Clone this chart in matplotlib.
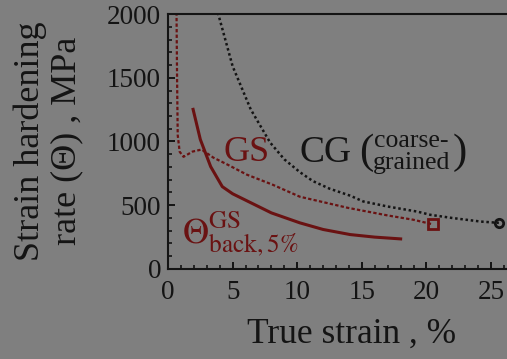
import matplotlib
matplotlib.use('Agg')
import matplotlib.pyplot as plt
from matplotlib.ticker import MultipleLocator

plt.rcParams['font.family'] = ['Liberation Serif', 'DejaVu Serif']
plt.rcParams['mathtext.fontset'] = 'stix'

# coarse-grained (black dotted)
cg_x = [3.75, 5.0, 6.4, 7.9, 9.0, 10.2, 11.2, 12.5, 14.1, 15.1, 17.0, 19.3, 20.3, 22.0, 24.2, 25.6]
cg_y = [2050, 1590, 1252, 992, 860, 760, 690, 630, 575, 530, 490, 450, 425, 400, 372, 362]

# GS (red dotted)
gs_x = [0.65, 0.7, 0.75, 0.9, 1.2, 1.9, 2.6, 3.5, 4.6, 6.1, 8.1, 10.2, 13.9, 17.0, 19.0, 20.5]
gs_y = [2100, 1500, 1050, 920, 880, 921, 937, 874, 819, 740, 661, 567, 480, 420, 386, 350]

# GS back stress 5% (red solid)
back_x = [1.94, 2.5, 3.3, 4.2, 5.0, 6.4, 8.0, 10.2, 12.0, 14.1, 16.0, 18.0]
back_y = [1252, 1016, 803, 646, 590, 520, 440, 362, 310, 270, 250, 236]

xticks = [0, 5, 10, 15, 20, 25]
yticks = [0, 500, 1000, 1500, 2000]

bg = '#7f7f7f'
red = '#6a1212'
dark = '#141414'

fig = plt.figure(figsize=(5.07, 3.59), dpi=100, facecolor=bg)
ax = fig.add_axes([0.3314, 0.2507, 0.7239, 0.7103], facecolor=bg)

ax.plot(cg_x, cg_y, color=dark, lw=1.8, ls=(0, (1, 1.1)))
ax.plot(cg_x[-1], cg_y[-1], 'o', mfc='none', mec=dark, ms=6, mew=2)
ax.plot(gs_x, gs_y, color=red, lw=1.6, ls=(0, (1.5, 1)))
ax.plot(gs_x[-1], gs_y[-1], 's', mfc='none', mec=red, ms=6.5, mew=2)
ax.plot(back_x, back_y, color=red, lw=2.2)

ax.set_xlim(0, 28.4)
ax.set_ylim(0, 2000)
ax.set_xticks(xticks)
ax.set_yticks(yticks)
ax.xaxis.set_minor_locator(MultipleLocator(1))
ax.yaxis.set_minor_locator(MultipleLocator(100))
ax.tick_params(which='major', direction='in', length=5, width=1.4, colors=dark, labelsize=19.5)
ax.tick_params(axis='x', which='major', pad=8)
ax.tick_params(axis='y', which='major', pad=5)
ax.tick_params(which='minor', direction='in', length=3, width=1.2, colors=dark)
for s in ['left', 'bottom', 'top']:
    ax.spines[s].set_linewidth(1.5)
    ax.spines[s].set_color(dark)
ax.spines['right'].set_visible(False)

ax.set_xlabel('True strain , %', fontsize=25.5, color=dark, labelpad=9)
fig.text(30 / 507, 0.607, 'Strain hardening', rotation=90, fontsize=26, color=dark,
         ha='center', va='center')
fig.text(67 / 507, 0.607, 'rate (Θ) , MPa', rotation=90, fontsize=26, color=dark,
         ha='center', va='center')

ax.text(6.05, 915, 'GS', fontsize=26, color=red, ha='center', va='center')
ax.text(12.17, 915, 'CG', fontsize=27, color=dark, ha='center', va='center')
ax.text(15.35, 915, '(', fontsize=31, color=dark, ha='center', va='center')
ax.text(22.6, 915, ')', fontsize=31, color=dark, ha='center', va='center')
ax.text(18.85, 1000, 'coarse-', fontsize=18.5, color=dark, ha='center', va='center')
ax.text(18.85, 835, 'grained', fontsize=18.5, color=dark, ha='center', va='center')
ax.text(1.1, 278, r'$\Theta^{\rm GS}_{\rm back,5\%}$', fontsize=26, color=red,
        ha='left', va='center')

fig.savefig('out.png', dpi=100, facecolor=bg)
